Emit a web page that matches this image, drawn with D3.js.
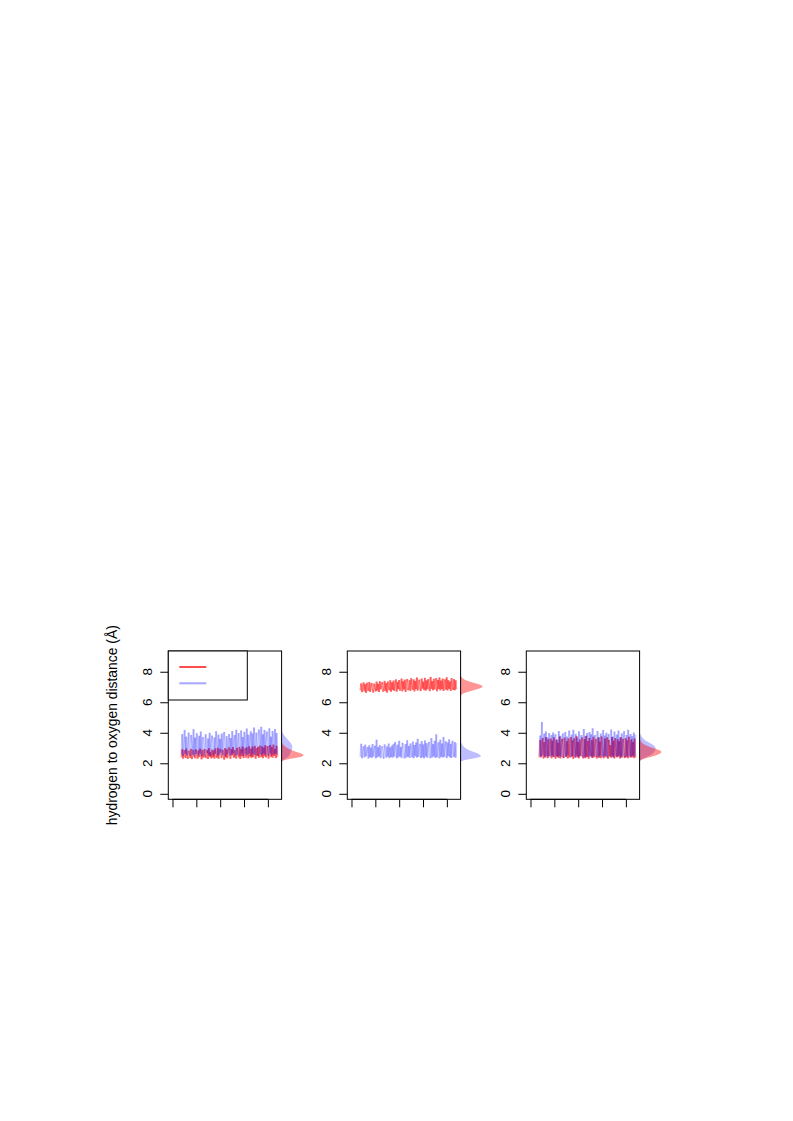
<!DOCTYPE html>
<html>
<head>
<meta charset="utf-8">
<script src="https://cdn.jsdelivr.net/npm/d3@7"></script>
<style>
  html, body { margin: 0; padding: 0; background: #fff; }
  svg { display: block; font-family: "Liberation Sans", Arial, Helvetica, sans-serif; }
</style>
</head>
<body>
<svg id="chart" width="793" height="1121"></svg>
<script>
// ---------------- DATA ----------------
const yTicks = [0, 2, 4, 6, 8];
const xTicks = [0, 20, 40, 60, 80];
const xDomain = [0, 88];
const yDomain = [0, 9];
const timeStart = 7.5;
const timeEnd = 88;
const yTitle = "hydrogen to oxygen distance (Å)";
const legendLabels = ["", ""];

// time series (Å)
const p1Red = [2.38,2.92,2.31,2.70,2.86,2.35,2.97,2.44,2.29,2.83,2.62,2.36,2.95,2.27,2.78,2.88,2.40,2.33,2.91,2.55,
2.30,2.84,2.41,2.96,2.68,2.26,2.89,2.37,2.80,2.93,2.34,2.50,2.87,2.28,2.99,2.43,2.74,2.32,2.90,2.39,
2.85,2.31,2.97,2.58,2.36,3.02,2.29,2.81,2.94,2.42,2.35,2.88,2.66,2.24,3.00,2.38,2.92,2.33,2.79,3.04,
2.40,2.30,2.95,2.52,3.06,2.36,2.88,2.43,2.31,3.01,2.72,2.39,3.08,2.28,2.93,2.46,3.10,2.34,2.86,2.98,
2.37,3.05,2.60,2.32,3.12,2.44,2.96,2.35,3.09,2.41,2.78,3.14,2.30,2.99,2.47,3.07,2.36,3.16,2.55,2.40,
3.11,2.33,3.03,2.45,3.18,2.38,2.90,3.13,2.31,2.70,3.20,2.42,3.06,2.36,3.22,2.48,2.95,2.34,3.15,2.40];
const p1Blue = [2.58,3.92,2.47,3.40,4.18,2.62,3.75,2.52,3.10,4.02,2.66,2.49,3.86,3.30,2.57,4.24,2.45,3.68,2.60,3.97,
3.20,2.51,3.80,2.64,4.08,2.48,3.55,3.72,2.59,2.44,3.90,3.05,2.67,3.63,2.53,4.00,2.46,3.35,3.82,2.61,
2.50,3.70,2.63,4.10,3.25,2.47,3.88,2.56,3.60,2.69,3.95,2.52,3.45,4.05,2.58,2.45,3.78,2.62,3.15,3.92,
2.49,3.66,2.57,4.12,2.64,3.50,3.85,2.46,4.20,2.55,3.30,3.98,2.61,2.50,4.15,2.66,3.72,2.48,4.06,3.40,
2.59,4.28,2.52,3.88,2.65,3.55,4.10,2.47,3.96,2.62,4.35,2.54,3.20,4.02,2.68,2.49,4.22,3.60,2.58,4.40,
2.51,3.90,2.64,4.18,2.55,3.45,4.08,2.60,2.48,4.30,2.66,3.75,2.53,4.12,3.35,2.59,4.25,2.62,3.98,2.56];
const p2Red = [6.78,7.24,6.66,7.05,7.30,6.72,7.18,6.62,7.28,6.90,6.75,7.33,6.68,7.12,7.26,6.80,6.64,7.22,6.98,6.71,
7.35,6.76,7.20,6.67,7.38,6.85,7.10,7.32,6.70,6.82,7.40,6.73,7.25,6.63,7.36,7.00,6.78,7.44,6.69,7.30,
6.81,7.42,6.74,7.15,7.50,6.70,7.34,6.86,7.46,6.76,7.05,7.55,6.72,7.38,6.84,7.48,6.68,7.28,7.52,6.79,
6.88,7.45,6.75,7.58,7.10,6.82,7.50,6.71,7.40,6.86,7.62,6.77,7.22,7.48,6.83,6.74,7.56,6.89,7.35,6.80,
7.60,6.76,7.44,6.85,7.52,7.05,6.73,7.66,6.88,7.38,6.79,7.54,6.84,7.30,7.58,6.72,7.46,6.87,7.62,6.78,
7.42,6.86,7.55,6.74,7.20,7.50,6.83,7.64,6.77,7.45,6.88,7.36,6.75,7.58,7.10,6.81,7.52,6.79,7.44,6.85];
const p2Blue = [2.42,3.28,2.33,2.95,3.12,2.38,3.22,2.46,2.80,3.08,2.31,3.18,2.40,3.02,2.35,3.26,2.44,2.90,3.15,2.32,
3.55,2.39,3.06,2.45,3.20,2.34,2.98,3.12,2.41,2.30,3.24,2.85,2.37,3.10,2.43,3.30,2.33,3.04,2.40,3.16,
2.36,3.28,2.44,3.40,2.95,2.32,3.22,2.39,3.48,2.45,3.08,2.34,3.35,3.18,2.41,2.31,3.26,2.38,3.52,2.43,
3.14,2.35,3.30,2.92,2.40,3.42,2.33,3.20,2.46,3.36,2.37,3.60,2.42,3.05,3.28,2.34,3.45,2.39,3.24,2.32,
3.50,2.44,3.32,2.36,3.12,3.40,2.41,2.33,3.65,2.38,3.26,2.45,3.48,2.35,3.90,2.40,3.18,3.38,2.32,3.55,
2.43,3.30,2.37,3.72,2.41,3.22,3.44,2.34,3.36,2.46,3.58,2.39,3.28,2.35,3.48,3.15,2.42,3.40,2.36,3.32];
const p3Red = [2.36,3.52,2.44,3.10,3.66,2.31,3.40,2.39,3.72,2.90,2.34,3.58,2.46,3.25,3.62,2.33,3.48,2.41,3.70,3.00,
2.30,3.55,2.43,3.35,2.37,3.75,2.32,3.15,3.60,2.40,2.35,3.68,2.95,2.44,3.45,2.31,3.62,2.38,3.30,3.72,
2.42,3.50,2.29,3.64,3.05,2.36,3.78,2.43,3.40,2.33,3.56,2.47,3.20,3.70,2.32,2.39,3.58,2.34,3.80,2.41,
3.46,2.30,3.66,2.85,2.44,3.52,2.35,3.74,2.40,3.28,3.60,2.31,2.45,3.68,2.37,3.42,2.33,3.76,3.10,2.42,
2.34,3.62,2.40,3.38,3.70,2.30,3.54,2.46,3.20,2.36,3.72,2.41,3.48,2.32,3.65,2.95,2.39,3.58,2.44,3.45,
2.31,3.70,2.37,3.30,3.60,2.42,2.35,3.66,2.40,3.50,2.33,3.74,3.05,2.38,3.56,2.43,3.40,2.34,3.62,2.36];
const p3Blue = [2.46,3.82,2.39,4.70,2.51,3.40,3.95,2.42,4.08,2.48,3.70,2.37,3.98,3.25,2.45,3.85,2.52,4.02,2.40,3.72,
3.90,2.47,3.55,2.38,4.12,2.50,3.80,2.43,3.30,3.96,2.36,2.49,4.05,2.41,3.75,2.53,3.62,4.15,2.44,2.39,
3.88,2.47,4.20,3.45,2.40,3.92,2.51,3.68,2.37,4.10,2.46,3.35,3.85,2.42,2.50,4.25,2.38,3.78,2.45,3.98,
3.50,2.41,4.05,2.49,3.90,2.36,4.30,2.48,3.60,3.86,2.43,2.52,4.12,2.39,3.72,2.47,3.95,3.20,2.40,4.18,
2.46,3.82,2.50,4.00,2.38,3.65,3.92,2.44,2.41,4.22,2.49,3.76,2.36,4.08,3.40,2.47,3.88,2.42,4.15,2.51,
3.70,2.39,3.96,2.45,3.55,4.10,2.40,2.48,3.85,2.43,4.20,3.30,2.46,3.92,2.38,3.78,2.50,4.02,2.44,3.88];

// densities: [distance, density]
const p1RedDens = [[2.1,0],[2.2,0.1],[2.3,0.6],[2.4,1.3],[2.5,1.6],[2.6,1.55],[2.7,1.2],[2.8,0.85],[2.9,0.6],[3.0,0.4],[3.1,0.25],[3.2,0.12],[3.3,0.05],[3.4,0.01],[3.5,0]];
const p1BlueDens = [[2.1,0],[2.2,0.05],[2.3,0.25],[2.4,0.45],[2.5,0.55],[2.6,0.6],[2.7,0.65],[2.8,0.7],[2.9,0.74],[3.0,0.76],[3.1,0.76],[3.2,0.74],[3.3,0.68],[3.4,0.6],[3.5,0.5],[3.6,0.4],[3.7,0.3],[3.8,0.2],[3.9,0.13],[4.0,0.07],[4.1,0.04],[4.2,0.02],[4.3,0.01],[4.4,0]];
const p2RedDens = [[6.4,0],[6.5,0.05],[6.6,0.25],[6.7,0.6],[6.8,1.0],[6.9,1.35],[7.0,1.6],[7.1,1.55],[7.2,1.25],[7.3,0.85],[7.4,0.5],[7.5,0.25],[7.6,0.1],[7.7,0.03],[7.8,0]];
const p2BlueDens = [[2.1,0],[2.2,0.15],[2.3,0.8],[2.4,1.35],[2.5,1.5],[2.6,1.35],[2.7,1.05],[2.8,0.75],[2.9,0.5],[3.0,0.33],[3.1,0.2],[3.2,0.12],[3.3,0.07],[3.4,0.04],[3.5,0.02],[3.6,0.01],[3.7,0]];
const p3RedDens = [[2.1,0],[2.2,0.05],[2.3,0.3],[2.4,0.7],[2.5,1.1],[2.6,1.4],[2.7,1.58],[2.8,1.55],[2.9,1.3],[3.0,0.95],[3.1,0.65],[3.2,0.4],[3.3,0.22],[3.4,0.12],[3.5,0.06],[3.6,0.03],[3.7,0.01],[3.8,0]];
const p3BlueDens = [[2.1,0],[2.2,0.03],[2.3,0.2],[2.4,0.45],[2.5,0.7],[2.6,0.9],[2.7,1.02],[2.8,1.1],[2.9,1.14],[3.0,1.15],[3.1,1.1],[3.2,0.98],[3.3,0.8],[3.4,0.6],[3.5,0.42],[3.6,0.28],[3.7,0.17],[3.8,0.1],[3.9,0.05],[4.0,0.02],[4.1,0]];

const panels = [
  { red: p1Red, blue: p1Blue, redD: p1RedDens, blueD: p1BlueDens, legend: true },
  { red: p2Red, blue: p2Blue, redD: p2RedDens, blueD: p2BlueDens, legend: false },
  { red: p3Red, blue: p3Blue, redD: p3RedDens, blueD: p3BlueDens, legend: false }
];

// ---------------- LAYOUT ----------------
const panelLefts = [168.3, 347.3, 526.3];
const panelW = 113.3;
const panelTop = 651;
const panelBottom = 799.3;
const redLine = "rgba(255,0,0,0.4)";
const blueLine = "rgba(0,0,255,0.2)";
const redFill = "rgba(255,0,0,0.42)";
const blueFill = "rgba(0,0,255,0.26)";

const svg = d3.select("#chart");

// R-style 4% extension
const xPad = (xDomain[1] - xDomain[0]) * 0.04;
const yPad = (yDomain[1] - yDomain[0]) * 0.04;
const y = d3.scaleLinear().domain([yDomain[0] - yPad, yDomain[1] + yPad]).range([panelBottom, panelTop]);
const dens = d3.scaleLinear().domain([0, 1]).range([0, 14]);

panels.forEach((p, pi) => {
  const left = panelLefts[pi];
  const right = left + panelW;
  const x = d3.scaleLinear().domain([xDomain[0] - xPad, xDomain[1] + xPad]).range([left, right]);
  const g = svg.append("g");

  const timeOf = (arr) => arr.map((v, i) => [timeStart + i * (timeEnd - timeStart) / (arr.length - 1), v]);
  const line = d3.line().x(d => x(d[0])).y(d => y(d[1]));

  // each series drawn as a line; separate segments so overlaps build up like dense traces
  [[p.red, redLine], [p.blue, blueLine]].forEach(([arr, col]) => {
    const segs = d3.pairs(timeOf(arr));
    g.append("g").selectAll("path").data(segs).join("path")
      .attr("d", d => line(d))
      .attr("fill", "none").attr("stroke", col).attr("stroke-width", 1.9)
      .attr("stroke-linecap", "butt");
  });

  // density polygons outside right edge
  const area = d3.area().y(d => y(d[0])).x0(right).x1(d => right + dens(d[1])).curve(d3.curveBasis);
  g.append("path").attr("d", area(p.blueD)).attr("fill", blueFill).attr("stroke", "none");
  g.append("path").attr("d", area(p.redD)).attr("fill", redFill).attr("stroke", "none");

  // box
  g.append("rect").attr("x", left).attr("y", panelTop).attr("width", panelW).attr("height", panelBottom - panelTop)
    .attr("fill", "none").attr("stroke", "#000").attr("stroke-width", 1);

  // y axis (ticks via d3 axis, labels as explicit rotated text)
  const ya = svg.append("g").attr("transform", `translate(${left},0)`)
    .call(d3.axisLeft(y).tickValues(yTicks).tickSize(8).tickSizeOuter(0).tickFormat(() => ""));
  ya.select(".domain").remove();
  ya.selectAll(".tick line").attr("stroke", "#000");
  svg.append("g").selectAll("text").data(yTicks).join("text")
    .attr("transform", d => `translate(${left - 21.5},${y(d)}) rotate(-90)`)
    .attr("text-anchor", "middle")
    .attr("dy", "0.36em")
    .style("font-size", "13.5px")
    .style("font-family", "'Liberation Sans', Arial, sans-serif")
    .attr("fill", "#000")
    .text(d => d);

  // x axis
  const xa = svg.append("g").attr("transform", `translate(0,${panelBottom})`)
    .call(d3.axisBottom(x).tickValues(xTicks).tickSize(8).tickSizeOuter(0).tickFormat(() => ""));
  xa.select(".domain").attr("d", `M${x(xTicks[0])},0H${x(xTicks[xTicks.length - 1])}`).attr("stroke", "#000");
  xa.selectAll(".tick line").attr("stroke", "#000");

  if (p.legend) {
    const lg = svg.append("g");
    lg.append("rect").attr("x", left).attr("y", panelTop).attr("width", 79).attr("height", 49)
      .attr("fill", "#fff").attr("stroke", "#000").attr("stroke-width", 1);
    const items = [{ c: "rgba(255,0,0,0.7)", label: legendLabels[0] }, { c: "rgba(0,0,255,0.35)", label: legendLabels[1] }];
    items.forEach((it, i) => {
      const ly = panelTop + 16 + i * 16.3;
      lg.append("line").attr("x1", left + 11).attr("x2", left + 38).attr("y1", ly).attr("y2", ly)
        .attr("stroke", it.c).attr("stroke-width", 2);
      lg.append("text").attr("x", left + 44).attr("y", ly).attr("font-size", 11)
        .attr("dominant-baseline", "central").text(it.label);
    });
  }
});

// y title
svg.append("text")
  .attr("transform", `translate(112,${(panelTop + panelBottom) / 2}) rotate(-90)`)
  .attr("text-anchor", "middle").attr("dominant-baseline", "central")
  .attr("font-size", 13.9).attr("fill", "#000")
  .text(yTitle);
</script>
</body>
</html>
